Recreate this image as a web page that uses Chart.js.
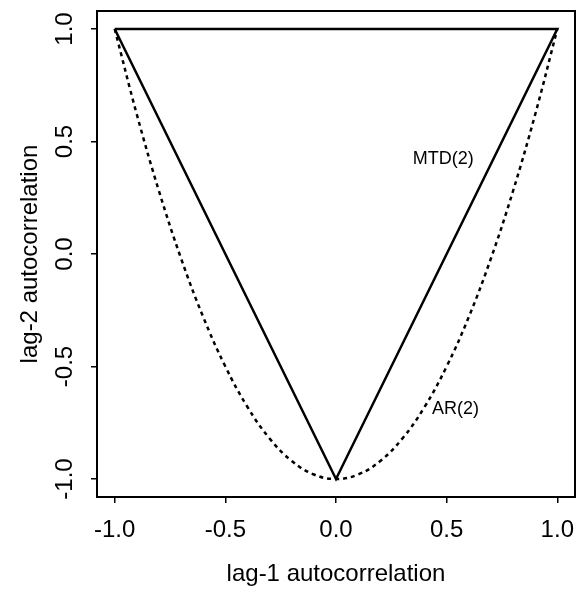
<!DOCTYPE html>
<html>
<head>
<meta charset="utf-8">
<script src="https://cdn.jsdelivr.net/npm/chart.js@4/dist/chart.umd.min.js"></script>
<style>
  html, body { margin: 0; padding: 0; background: #fff; }
  #wrap { width: 577px; height: 589px; }
</style>
</head>
<body>
<div id="wrap"><canvas id="region"></canvas></div>
<script>
// MTD(2) admissible region: triangle with corners (-1,1), (1,1), (0,-1)
const mtdX = [-1.0, 1.0, 0.0, -1.0];
const mtdY = [1.0, 1.0, -1.0, 1.0];

// AR(2) boundary curve (lag-1 vs lag-2 autocorrelation)
const arX = [-1.0, -0.9, -0.8, -0.7, -0.6, -0.5, -0.4, -0.3, -0.2, -0.1, 0.0,
             0.1, 0.2, 0.3, 0.4, 0.5, 0.6, 0.7, 0.8, 0.9, 1.0];
const arY = [1.0, 0.62, 0.28, -0.02, -0.28, -0.5, -0.68, -0.82, -0.92, -0.98, -1.0,
             -0.98, -0.92, -0.82, -0.68, -0.5, -0.28, -0.02, 0.28, 0.62, 1.0];

const xTicks = [-1.0, -0.5, 0.0, 0.5, 1.0];
const yTicks = [-1.0, -0.5, 0.0, 0.5, 1.0];

// curve labels, in data coordinates
const curveLabels = [
  { text: 'MTD(2)', x: 0.485, y: 0.42 },
  { text: 'AR(2)', x: 0.54, y: -0.69 }
];

const FONT = '"Liberation Sans", Arial, Helvetica, sans-serif';

const toPoints = (xs, ys) => xs.map((x, i) => ({ x: x, y: ys[i] }));

// box around the plot, rotated y tick labels and curve labels
const framePlugin = {
  id: 'frame',
  afterDraw(chart) {
    const { ctx, chartArea: a, scales } = chart;
    ctx.save();
    ctx.strokeStyle = '#000';
    ctx.lineWidth = 2;
    ctx.strokeRect(a.left, a.top, a.right - a.left, a.bottom - a.top);

    ctx.fillStyle = '#000';
    ctx.font = '24px ' + FONT;
    ctx.textAlign = 'center';
    ctx.textBaseline = 'middle';
    yTicks.forEach(v => {
      const py = scales.y.getPixelForValue(v);
      ctx.save();
      ctx.translate(65, py);
      ctx.rotate(-Math.PI / 2);
      ctx.fillText(v.toFixed(1), 0, 0);
      ctx.restore();
    });

    ctx.font = '18px ' + FONT;
    curveLabels.forEach(l => {
      ctx.fillText(l.text, scales.x.getPixelForValue(l.x), scales.y.getPixelForValue(l.y));
    });
    ctx.restore();
  }
};

new Chart(document.getElementById('region'), {
  type: 'scatter',
  data: {
    datasets: [
      {
        label: 'MTD(2)',
        data: toPoints(mtdX, mtdY),
        showLine: true,
        borderColor: '#000',
        borderWidth: 2.5,
        pointRadius: 0,
        tension: 0
      },
      {
        label: 'AR(2)',
        data: toPoints(arX, arY),
        showLine: true,
        borderColor: '#000',
        borderWidth: 2.5,
        borderDash: [4, 4],
        pointRadius: 0,
        tension: 0.4
      }
    ]
  },
  options: {
    responsive: true,
    maintainAspectRatio: false,
    animation: false,
    layout: { padding: { top: 11, right: 2, left: 0, bottom: 0 } },
    plugins: {
      legend: { display: false },
      tooltip: { enabled: false }
    },
    scales: {
      x: {
        type: 'linear',
        min: -1.08,
        max: 1.08,
        afterBuildTicks: scale => { scale.ticks = xTicks.map(v => ({ value: v })); },
        afterFit: scale => {
          scale.height = 92;
          scale.paddingLeft = 0;
          scale.paddingRight = 0;
        },
        border: { display: false },
        grid: { drawOnChartArea: false, color: '#000', lineWidth: 1.5, tickLength: 6 },
        ticks: {
          color: '#000',
          padding: 13,
          maxRotation: 0,
          font: { family: FONT, size: 24 },
          callback: v => v.toFixed(1)
        },
        title: {
          display: true,
          text: 'lag-1 autocorrelation',
          color: '#000',
          font: { family: FONT, size: 24 },
          padding: { top: 0, bottom: 0 }
        }
      },
      y: {
        type: 'linear',
        min: -1.08,
        max: 1.08,
        afterBuildTicks: scale => { scale.ticks = yTicks.map(v => ({ value: v })); },
        afterFit: scale => {
          scale.width = 97;
          scale.paddingTop = 0;
          scale.paddingBottom = 0;
        },
        border: { display: false },
        grid: { drawOnChartArea: false, color: '#000', lineWidth: 1.5, tickLength: 6 },
        ticks: { display: false },
        title: {
          display: true,
          text: 'lag-2 autocorrelation',
          color: '#000',
          font: { family: FONT, size: 24 },
          padding: { top: 16, bottom: 0 }
        }
      }
    }
  },
  plugins: [framePlugin]
});
</script>
</body>
</html>
